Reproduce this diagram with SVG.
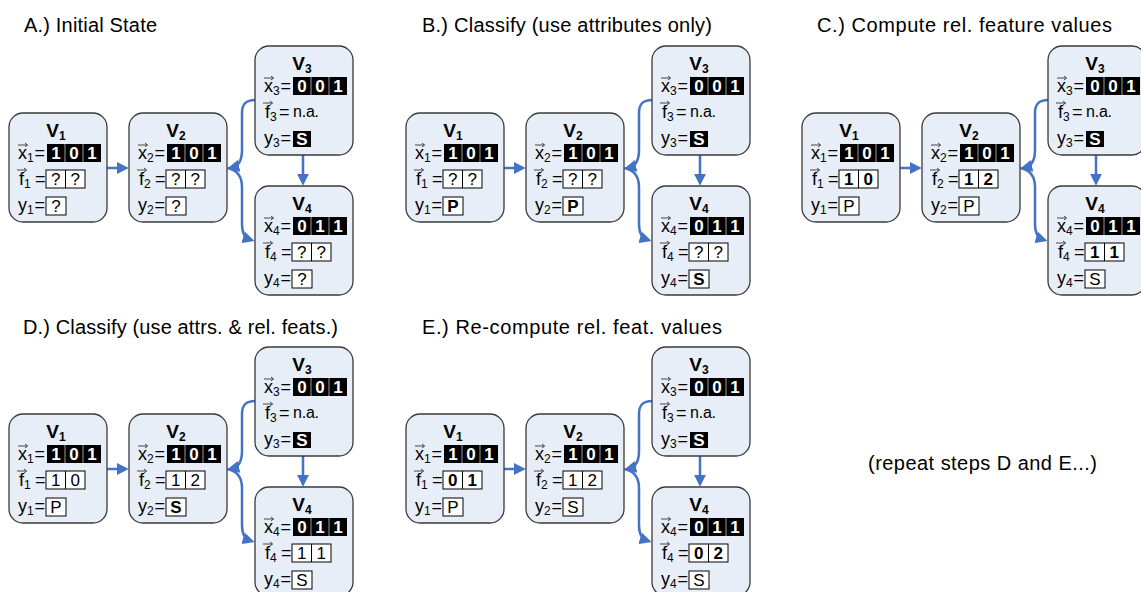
<svg xmlns="http://www.w3.org/2000/svg" xmlns:xlink="http://www.w3.org/1999/xlink" width="1141" height="592" viewBox="0 0 1141 592">
<style>
text{font-family:'Liberation Sans',Arial,sans-serif;fill:#000}
.tt{font-size:20px}
.nb{fill:#E8EEF7;stroke:#3a3a3a;stroke-width:1.3}
.vt{font-size:19px;font-weight:bold;text-anchor:middle}
.vs{font-size:12px}
.lb{font-size:18px}
.sb{font-size:12px}
.na{font-size:16px}
.sep{stroke:#9a9a9a;stroke-width:1}
.wc{fill:#fff;stroke:#000;stroke-width:1}
.ws{stroke:#000;stroke-width:1}
.va{stroke:#333;stroke-width:0.9;fill:none}
.dw{font-size:17px;font-weight:bold;fill:#fff;text-anchor:middle}
.dr{font-size:17px;text-anchor:middle}
.db{font-size:17px;font-weight:bold;text-anchor:middle}
.cn{stroke:#4472C4;stroke-width:2.5;fill:none;marker-end:url(#ah)}
</style>
<defs>
<marker id="ah" markerUnits="userSpaceOnUse" markerWidth="12" markerHeight="12" viewBox="0 0 10 10" refX="6" refY="5" orient="auto"><path d="M0,0L10,5L0,10z" fill="#4472C4"/></marker>
<g id="frame"><rect class="nb" width="98" height="109" rx="14"/><path class="va" d="M9,32h9.5m-2.5-2l2.5,2l-2.5,2M8,57h9.5m-2.5-2l2.5,2l-2.5,2"/><rect x="38" y="31" width="54" height="18"/><path class="sep" d="M56,31v18M74,31v18"/></g>
<g id="fcells"><rect class="wc" x="37" y="57" width="39" height="18"/><path class="ws" d="M56.5,57v18"/></g>
<rect id="ycell" class="wc" x="37" y="84" width="20" height="18"/>
<rect id="ycellb" x="38" y="85" width="18" height="16"/>
</defs>

<g id="titles">
<text class="tt" x="24" y="32" textLength="133" lengthAdjust="spacing">A.) Initial State</text>
<text class="tt" x="422" y="32" textLength="290" lengthAdjust="spacing">B.) Classify (use attributes only)</text>
<text class="tt" x="817" y="32" textLength="295" lengthAdjust="spacing">C.) Compute rel. feature values</text>
<text class="tt" x="23" y="334" textLength="315" lengthAdjust="spacing">D.) Classify (use attrs. &amp; rel. feats.)</text>
<text class="tt" x="422" y="334" textLength="300" lengthAdjust="spacing">E.) Re-compute rel. feat. values</text>
<text class="tt" x="868" y="470" textLength="229" lengthAdjust="spacing">(repeat steps D and E...)</text>
</g>

<g id="connectors">
<g transform="translate(0,0)"><path class="cn" d="M107,168H124"/><path class="cn" d="M255,100C246,100 242,104 242,113V150C242,160 239,166 232,167.5"/><path class="cn" d="M227.5,168C237,170 242,176 242,187V224C242,234 245,238 250,239.5"/><path class="cn" d="M303,155V181"/></g>
<g transform="translate(397,0)"><path class="cn" d="M107,168H124"/><path class="cn" d="M255,100C246,100 242,104 242,113V150C242,160 239,166 232,167.5"/><path class="cn" d="M227.5,168C237,170 242,176 242,187V224C242,234 245,238 250,239.5"/><path class="cn" d="M303,155V181"/></g>
<g transform="translate(793,0)"><path class="cn" d="M107,168H124"/><path class="cn" d="M255,100C246,100 242,104 242,113V150C242,160 239,166 232,167.5"/><path class="cn" d="M227.5,168C237,170 242,176 242,187V224C242,234 245,238 250,239.5"/><path class="cn" d="M303,155V181"/></g>
<g transform="translate(0,301)"><path class="cn" d="M107,168H124"/><path class="cn" d="M255,100C246,100 242,104 242,113V150C242,160 239,166 232,167.5"/><path class="cn" d="M227.5,168C237,170 242,176 242,187V224C242,234 245,238 250,239.5"/><path class="cn" d="M303,155V181"/></g>
<g transform="translate(397,301)"><path class="cn" d="M107,168H124"/><path class="cn" d="M255,100C246,100 242,104 242,113V150C242,160 239,166 232,167.5"/><path class="cn" d="M227.5,168C237,170 242,176 242,187V224C242,234 245,238 250,239.5"/><path class="cn" d="M303,155V181"/></g>
</g>

<!-- Panel A -->
<g id="A_v1" transform="translate(9,113)"><use xlink:href="#frame"/><use xlink:href="#fcells"/><use xlink:href="#ycell"/>
<text class="vt" x="47" y="24">V<tspan class="vs" dy="3">1</tspan></text>
<text class="lb" y="46"><tspan x="9">x</tspan><tspan class="sb" dy="3">1</tspan><tspan x="25.5" dy="-3">=</tspan></text>
<text class="dw" x="47 65 83" y="46">101</text>
<text class="lb" y="72"><tspan x="10">f</tspan><tspan class="sb" dy="3">1</tspan><tspan x="26" dy="-3">=</tspan></text>
<text class="dr" x="46.75 66.25" y="72">??</text>
<text class="lb" y="98"><tspan x="9">y</tspan><tspan class="sb" dy="3">1</tspan><tspan x="25.5" dy="-3">=</tspan></text>
<text class="dr" x="47" y="99">?</text></g>

<g id="A_v2" transform="translate(129,113)"><use xlink:href="#frame"/><use xlink:href="#fcells"/><use xlink:href="#ycell"/>
<text class="vt" x="47" y="24">V<tspan class="vs" dy="3">2</tspan></text>
<text class="lb" y="46"><tspan x="9">x</tspan><tspan class="sb" dy="3">2</tspan><tspan x="25.5" dy="-3">=</tspan></text>
<text class="dw" x="47 65 83" y="46">101</text>
<text class="lb" y="72"><tspan x="10">f</tspan><tspan class="sb" dy="3">2</tspan><tspan x="26" dy="-3">=</tspan></text>
<text class="dr" x="46.75 66.25" y="72">??</text>
<text class="lb" y="98"><tspan x="9">y</tspan><tspan class="sb" dy="3">2</tspan><tspan x="25.5" dy="-3">=</tspan></text>
<text class="dr" x="47" y="99">?</text></g>

<g id="A_v3" transform="translate(255,46)"><use xlink:href="#frame"/><use xlink:href="#ycellb"/>
<text class="vt" x="47" y="24">V<tspan class="vs" dy="3">3</tspan></text>
<text class="lb" y="46"><tspan x="9">x</tspan><tspan class="sb" dy="3">3</tspan><tspan x="25.5" dy="-3">=</tspan></text>
<text class="dw" x="47 65 83" y="46">001</text>
<text class="lb" y="72"><tspan x="10">f</tspan><tspan class="sb" dy="3">3</tspan><tspan x="24" dy="-3">=</tspan></text>
<text class="na" x="38" y="71" textLength="26" lengthAdjust="spacing">n.a.</text>
<text class="lb" y="98"><tspan x="9">y</tspan><tspan class="sb" dy="3">3</tspan><tspan x="25.5" dy="-3">=</tspan></text>
<text class="dw" x="47" y="99">S</text></g>

<g id="A_v4" transform="translate(255,186)"><use xlink:href="#frame"/><use xlink:href="#fcells"/><use xlink:href="#ycell"/>
<text class="vt" x="47" y="24">V<tspan class="vs" dy="3">4</tspan></text>
<text class="lb" y="46"><tspan x="9">x</tspan><tspan class="sb" dy="3">4</tspan><tspan x="25.5" dy="-3">=</tspan></text>
<text class="dw" x="47 65 83" y="46">011</text>
<text class="lb" y="72"><tspan x="10">f</tspan><tspan class="sb" dy="3">4</tspan><tspan x="26" dy="-3">=</tspan></text>
<text class="dr" x="46.75 66.25" y="72">??</text>
<text class="lb" y="98"><tspan x="9">y</tspan><tspan class="sb" dy="3">4</tspan><tspan x="25.5" dy="-3">=</tspan></text>
<text class="dr" x="47" y="99">?</text></g>

<!-- Panel B -->
<g id="B_v1" transform="translate(406,113)"><use xlink:href="#frame"/><use xlink:href="#fcells"/><use xlink:href="#ycell"/>
<text class="vt" x="47" y="24">V<tspan class="vs" dy="3">1</tspan></text>
<text class="lb" y="46"><tspan x="9">x</tspan><tspan class="sb" dy="3">1</tspan><tspan x="25.5" dy="-3">=</tspan></text>
<text class="dw" x="47 65 83" y="46">101</text>
<text class="lb" y="72"><tspan x="10">f</tspan><tspan class="sb" dy="3">1</tspan><tspan x="26" dy="-3">=</tspan></text>
<text class="dr" x="46.75 66.25" y="72">??</text>
<text class="lb" y="98"><tspan x="9">y</tspan><tspan class="sb" dy="3">1</tspan><tspan x="25.5" dy="-3">=</tspan></text>
<text class="db" x="47" y="99">P</text></g>

<g id="B_v2" transform="translate(526,113)"><use xlink:href="#frame"/><use xlink:href="#fcells"/><use xlink:href="#ycell"/>
<text class="vt" x="47" y="24">V<tspan class="vs" dy="3">2</tspan></text>
<text class="lb" y="46"><tspan x="9">x</tspan><tspan class="sb" dy="3">2</tspan><tspan x="25.5" dy="-3">=</tspan></text>
<text class="dw" x="47 65 83" y="46">101</text>
<text class="lb" y="72"><tspan x="10">f</tspan><tspan class="sb" dy="3">2</tspan><tspan x="26" dy="-3">=</tspan></text>
<text class="dr" x="46.75 66.25" y="72">??</text>
<text class="lb" y="98"><tspan x="9">y</tspan><tspan class="sb" dy="3">2</tspan><tspan x="25.5" dy="-3">=</tspan></text>
<text class="db" x="47" y="99">P</text></g>

<g id="B_v3" transform="translate(652,46)"><use xlink:href="#frame"/><use xlink:href="#ycellb"/>
<text class="vt" x="47" y="24">V<tspan class="vs" dy="3">3</tspan></text>
<text class="lb" y="46"><tspan x="9">x</tspan><tspan class="sb" dy="3">3</tspan><tspan x="25.5" dy="-3">=</tspan></text>
<text class="dw" x="47 65 83" y="46">001</text>
<text class="lb" y="72"><tspan x="10">f</tspan><tspan class="sb" dy="3">3</tspan><tspan x="24" dy="-3">=</tspan></text>
<text class="na" x="38" y="71" textLength="26" lengthAdjust="spacing">n.a.</text>
<text class="lb" y="98"><tspan x="9">y</tspan><tspan class="sb" dy="3">3</tspan><tspan x="25.5" dy="-3">=</tspan></text>
<text class="dw" x="47" y="99">S</text></g>

<g id="B_v4" transform="translate(652,186)"><use xlink:href="#frame"/><use xlink:href="#fcells"/><use xlink:href="#ycell"/>
<text class="vt" x="47" y="24">V<tspan class="vs" dy="3">4</tspan></text>
<text class="lb" y="46"><tspan x="9">x</tspan><tspan class="sb" dy="3">4</tspan><tspan x="25.5" dy="-3">=</tspan></text>
<text class="dw" x="47 65 83" y="46">011</text>
<text class="lb" y="72"><tspan x="10">f</tspan><tspan class="sb" dy="3">4</tspan><tspan x="26" dy="-3">=</tspan></text>
<text class="dr" x="46.75 66.25" y="72">??</text>
<text class="lb" y="98"><tspan x="9">y</tspan><tspan class="sb" dy="3">4</tspan><tspan x="25.5" dy="-3">=</tspan></text>
<text class="db" x="47" y="99">S</text></g>

<!-- Panel C -->
<g id="C_v1" transform="translate(802,113)"><use xlink:href="#frame"/><use xlink:href="#fcells"/><use xlink:href="#ycell"/>
<text class="vt" x="47" y="24">V<tspan class="vs" dy="3">1</tspan></text>
<text class="lb" y="46"><tspan x="9">x</tspan><tspan class="sb" dy="3">1</tspan><tspan x="25.5" dy="-3">=</tspan></text>
<text class="dw" x="47 65 83" y="46">101</text>
<text class="lb" y="72"><tspan x="10">f</tspan><tspan class="sb" dy="3">1</tspan><tspan x="26" dy="-3">=</tspan></text>
<text class="db" x="46.75 66.25" y="72">10</text>
<text class="lb" y="98"><tspan x="9">y</tspan><tspan class="sb" dy="3">1</tspan><tspan x="25.5" dy="-3">=</tspan></text>
<text class="dr" x="47" y="99">P</text></g>

<g id="C_v2" transform="translate(922,113)"><use xlink:href="#frame"/><use xlink:href="#fcells"/><use xlink:href="#ycell"/>
<text class="vt" x="47" y="24">V<tspan class="vs" dy="3">2</tspan></text>
<text class="lb" y="46"><tspan x="9">x</tspan><tspan class="sb" dy="3">2</tspan><tspan x="25.5" dy="-3">=</tspan></text>
<text class="dw" x="47 65 83" y="46">101</text>
<text class="lb" y="72"><tspan x="10">f</tspan><tspan class="sb" dy="3">2</tspan><tspan x="26" dy="-3">=</tspan></text>
<text class="db" x="46.75 66.25" y="72">12</text>
<text class="lb" y="98"><tspan x="9">y</tspan><tspan class="sb" dy="3">2</tspan><tspan x="25.5" dy="-3">=</tspan></text>
<text class="dr" x="47" y="99">P</text></g>

<g id="C_v3" transform="translate(1048,46)"><use xlink:href="#frame"/><use xlink:href="#ycellb"/>
<text class="vt" x="47" y="24">V<tspan class="vs" dy="3">3</tspan></text>
<text class="lb" y="46"><tspan x="9">x</tspan><tspan class="sb" dy="3">3</tspan><tspan x="25.5" dy="-3">=</tspan></text>
<text class="dw" x="47 65 83" y="46">001</text>
<text class="lb" y="72"><tspan x="10">f</tspan><tspan class="sb" dy="3">3</tspan><tspan x="24" dy="-3">=</tspan></text>
<text class="na" x="38" y="71" textLength="26" lengthAdjust="spacing">n.a.</text>
<text class="lb" y="98"><tspan x="9">y</tspan><tspan class="sb" dy="3">3</tspan><tspan x="25.5" dy="-3">=</tspan></text>
<text class="dw" x="47" y="99">S</text></g>

<g id="C_v4" transform="translate(1048,186)"><use xlink:href="#frame"/><use xlink:href="#fcells"/><use xlink:href="#ycell"/>
<text class="vt" x="47" y="24">V<tspan class="vs" dy="3">4</tspan></text>
<text class="lb" y="46"><tspan x="9">x</tspan><tspan class="sb" dy="3">4</tspan><tspan x="25.5" dy="-3">=</tspan></text>
<text class="dw" x="47 65 83" y="46">011</text>
<text class="lb" y="72"><tspan x="10">f</tspan><tspan class="sb" dy="3">4</tspan><tspan x="26" dy="-3">=</tspan></text>
<text class="db" x="46.75 66.25" y="72">11</text>
<text class="lb" y="98"><tspan x="9">y</tspan><tspan class="sb" dy="3">4</tspan><tspan x="25.5" dy="-3">=</tspan></text>
<text class="dr" x="47" y="99">S</text></g>

<!-- Panel D -->
<g id="D_v1" transform="translate(9,414)"><use xlink:href="#frame"/><use xlink:href="#fcells"/><use xlink:href="#ycell"/>
<text class="vt" x="47" y="24">V<tspan class="vs" dy="3">1</tspan></text>
<text class="lb" y="46"><tspan x="9">x</tspan><tspan class="sb" dy="3">1</tspan><tspan x="25.5" dy="-3">=</tspan></text>
<text class="dw" x="47 65 83" y="46">101</text>
<text class="lb" y="72"><tspan x="10">f</tspan><tspan class="sb" dy="3">1</tspan><tspan x="26" dy="-3">=</tspan></text>
<text class="dr" x="46.75 66.25" y="72">10</text>
<text class="lb" y="98"><tspan x="9">y</tspan><tspan class="sb" dy="3">1</tspan><tspan x="25.5" dy="-3">=</tspan></text>
<text class="dr" x="47" y="99">P</text></g>

<g id="D_v2" transform="translate(129,414)"><use xlink:href="#frame"/><use xlink:href="#fcells"/><use xlink:href="#ycell"/>
<text class="vt" x="47" y="24">V<tspan class="vs" dy="3">2</tspan></text>
<text class="lb" y="46"><tspan x="9">x</tspan><tspan class="sb" dy="3">2</tspan><tspan x="25.5" dy="-3">=</tspan></text>
<text class="dw" x="47 65 83" y="46">101</text>
<text class="lb" y="72"><tspan x="10">f</tspan><tspan class="sb" dy="3">2</tspan><tspan x="26" dy="-3">=</tspan></text>
<text class="dr" x="46.75 66.25" y="72">12</text>
<text class="lb" y="98"><tspan x="9">y</tspan><tspan class="sb" dy="3">2</tspan><tspan x="25.5" dy="-3">=</tspan></text>
<text class="db" x="47" y="99">S</text></g>

<g id="D_v3" transform="translate(255,347)"><use xlink:href="#frame"/><use xlink:href="#ycellb"/>
<text class="vt" x="47" y="24">V<tspan class="vs" dy="3">3</tspan></text>
<text class="lb" y="46"><tspan x="9">x</tspan><tspan class="sb" dy="3">3</tspan><tspan x="25.5" dy="-3">=</tspan></text>
<text class="dw" x="47 65 83" y="46">001</text>
<text class="lb" y="72"><tspan x="10">f</tspan><tspan class="sb" dy="3">3</tspan><tspan x="24" dy="-3">=</tspan></text>
<text class="na" x="38" y="71" textLength="26" lengthAdjust="spacing">n.a.</text>
<text class="lb" y="98"><tspan x="9">y</tspan><tspan class="sb" dy="3">3</tspan><tspan x="25.5" dy="-3">=</tspan></text>
<text class="dw" x="47" y="99">S</text></g>

<g id="D_v4" transform="translate(255,487)"><use xlink:href="#frame"/><use xlink:href="#fcells"/><use xlink:href="#ycell"/>
<text class="vt" x="47" y="24">V<tspan class="vs" dy="3">4</tspan></text>
<text class="lb" y="46"><tspan x="9">x</tspan><tspan class="sb" dy="3">4</tspan><tspan x="25.5" dy="-3">=</tspan></text>
<text class="dw" x="47 65 83" y="46">011</text>
<text class="lb" y="72"><tspan x="10">f</tspan><tspan class="sb" dy="3">4</tspan><tspan x="26" dy="-3">=</tspan></text>
<text class="dr" x="46.75 66.25" y="72">11</text>
<text class="lb" y="98"><tspan x="9">y</tspan><tspan class="sb" dy="3">4</tspan><tspan x="25.5" dy="-3">=</tspan></text>
<text class="dr" x="47" y="99">S</text></g>

<!-- Panel E -->
<g id="E_v1" transform="translate(406,414)"><use xlink:href="#frame"/><use xlink:href="#fcells"/><use xlink:href="#ycell"/>
<text class="vt" x="47" y="24">V<tspan class="vs" dy="3">1</tspan></text>
<text class="lb" y="46"><tspan x="9">x</tspan><tspan class="sb" dy="3">1</tspan><tspan x="25.5" dy="-3">=</tspan></text>
<text class="dw" x="47 65 83" y="46">101</text>
<text class="lb" y="72"><tspan x="10">f</tspan><tspan class="sb" dy="3">1</tspan><tspan x="26" dy="-3">=</tspan></text>
<text class="db" x="46.75 66.25" y="72">01</text>
<text class="lb" y="98"><tspan x="9">y</tspan><tspan class="sb" dy="3">1</tspan><tspan x="25.5" dy="-3">=</tspan></text>
<text class="dr" x="47" y="99">P</text></g>

<g id="E_v2" transform="translate(526,414)"><use xlink:href="#frame"/><use xlink:href="#fcells"/><use xlink:href="#ycell"/>
<text class="vt" x="47" y="24">V<tspan class="vs" dy="3">2</tspan></text>
<text class="lb" y="46"><tspan x="9">x</tspan><tspan class="sb" dy="3">2</tspan><tspan x="25.5" dy="-3">=</tspan></text>
<text class="dw" x="47 65 83" y="46">101</text>
<text class="lb" y="72"><tspan x="10">f</tspan><tspan class="sb" dy="3">2</tspan><tspan x="26" dy="-3">=</tspan></text>
<text class="dr" x="46.75 66.25" y="72">12</text>
<text class="lb" y="98"><tspan x="9">y</tspan><tspan class="sb" dy="3">2</tspan><tspan x="25.5" dy="-3">=</tspan></text>
<text class="dr" x="47" y="99">S</text></g>

<g id="E_v3" transform="translate(652,347)"><use xlink:href="#frame"/><use xlink:href="#ycellb"/>
<text class="vt" x="47" y="24">V<tspan class="vs" dy="3">3</tspan></text>
<text class="lb" y="46"><tspan x="9">x</tspan><tspan class="sb" dy="3">3</tspan><tspan x="25.5" dy="-3">=</tspan></text>
<text class="dw" x="47 65 83" y="46">001</text>
<text class="lb" y="72"><tspan x="10">f</tspan><tspan class="sb" dy="3">3</tspan><tspan x="24" dy="-3">=</tspan></text>
<text class="na" x="38" y="71" textLength="26" lengthAdjust="spacing">n.a.</text>
<text class="lb" y="98"><tspan x="9">y</tspan><tspan class="sb" dy="3">3</tspan><tspan x="25.5" dy="-3">=</tspan></text>
<text class="dw" x="47" y="99">S</text></g>

<g id="E_v4" transform="translate(652,487)"><use xlink:href="#frame"/><use xlink:href="#fcells"/><use xlink:href="#ycell"/>
<text class="vt" x="47" y="24">V<tspan class="vs" dy="3">4</tspan></text>
<text class="lb" y="46"><tspan x="9">x</tspan><tspan class="sb" dy="3">4</tspan><tspan x="25.5" dy="-3">=</tspan></text>
<text class="dw" x="47 65 83" y="46">011</text>
<text class="lb" y="72"><tspan x="10">f</tspan><tspan class="sb" dy="3">4</tspan><tspan x="26" dy="-3">=</tspan></text>
<text class="db" x="46.75 66.25" y="72">02</text>
<text class="lb" y="98"><tspan x="9">y</tspan><tspan class="sb" dy="3">4</tspan><tspan x="25.5" dy="-3">=</tspan></text>
<text class="dr" x="47" y="99">S</text></g>
</svg>
